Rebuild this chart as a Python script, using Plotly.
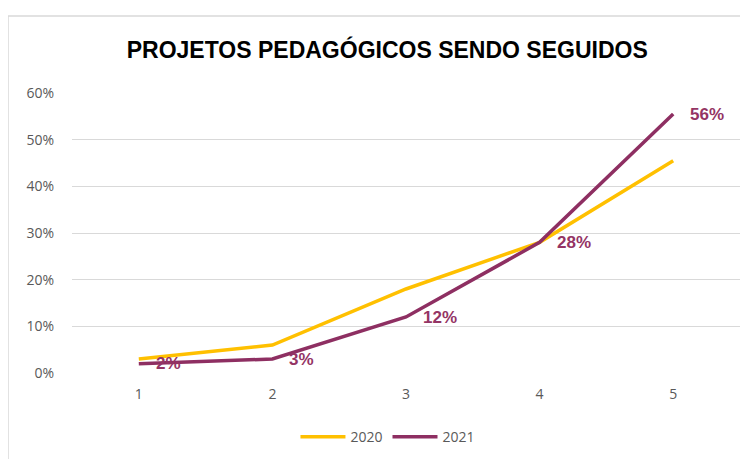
import plotly.graph_objects as go

categories = ["1", "2", "3", "4", "5"]
values_2020 = [0.03, 0.06, 0.18, 0.28, 0.455]
values_2021 = [0.02, 0.03, 0.12, 0.28, 0.555]
labels_2021 = ["2%", "3%", "12%", "28%", "56%"]
y_ticks = [0, 0.1, 0.2, 0.3, 0.4, 0.5, 0.6]
y_ticktext = ["0%", "10%", "20%", "30%", "40%", "50%", "60%"]

label_font = dict(color="#943464", size=17, family="Liberation Sans Narrow, Liberation Sans, Arial")

fig = go.Figure()
fig.add_trace(go.Scatter(x=categories, y=values_2020, mode="lines", name="2020",
                         line=dict(color="#FFC000", width=3.5)))
fig.add_trace(go.Scatter(x=categories, y=values_2021, mode="lines", name="2021",
                         line=dict(color="#8E2F62", width=3.5)))

annotations = [dict(x=i, y=v, xref="x", yref="y", text="<b>" + t + "</b>", showarrow=False,
                    xanchor="left", yanchor="middle", xshift=15, font=label_font)
               for i, (v, t) in enumerate(zip(values_2021, labels_2021))]

fig.update_layout(
    width=748, height=459,
    margin=dict(l=64, r=16, t=85, b=94),
    paper_bgcolor="white", plot_bgcolor="white",
    title=dict(text="<b>PROJETOS PEDAGÓGICOS SENDO SEGUIDOS</b>", x=0.507, xanchor="center",
               y=0.908, yanchor="middle",
               font=dict(size=23, color="black", family="Liberation Sans Narrow, Liberation Sans, Arial")),
    xaxis=dict(type="category", range=[-0.5, 4.5], showgrid=False, zeroline=False,
               showline=False, ticks="", tickfont=dict(size=14, color="#595959"), ticklabelstandoff=11),
    yaxis=dict(range=[0, 0.6], tickvals=y_ticks, ticktext=y_ticktext, showgrid=True,
               gridcolor="#D9D9D9", gridwidth=1, zeroline=False, showline=False,
               tickfont=dict(size=14, color="#595959"), ticklabelstandoff=17),
    legend=dict(orientation="h", x=0.473, xanchor="center", y=-0.229, yanchor="middle",
                font=dict(size=14, color="#595959"), itemwidth=45),
    showlegend=True,
    annotations=annotations,
    shapes=[dict(type="rect", xref="paper", yref="paper", x0=-0.0958, x1=1.03, y0=-0.35, y1=1.275,
                 line=dict(color="#D9D9D9", width=1.5), layer="below")],
)

fig.write_html("out.html")
